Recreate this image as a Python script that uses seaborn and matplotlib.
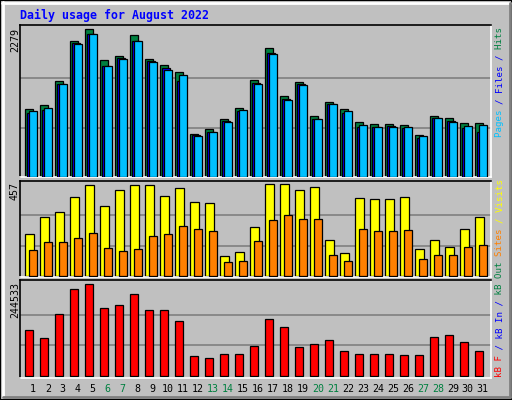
import numpy as np
import matplotlib
matplotlib.use("Agg")
import matplotlib.pyplot as plt
from matplotlib.patches import Rectangle
import seaborn as sns

days = list(range(1, 32))
weekends = [6, 7, 13, 14, 20, 21, 27, 28]
hits = [1042, 1103, 1480, 2093, 2279, 1799, 1861, 2186, 1815, 1722, 1614, 655, 732, 892, 1057, 1490,
        1985, 1243, 1459, 933, 1150, 1042, 840, 809, 809, 794, 639, 933, 902, 825, 825]
files = [980, 1040, 1440, 2060, 2210, 1710, 1830, 2100, 1790, 1680, 1480, 640, 700, 860, 1020, 1450,
         1920, 1200, 1430, 900, 1120, 980, 775, 770, 780, 760, 600, 910, 870, 760, 690]
pages = [1011, 1057, 1428, 2047, 2202, 1707, 1815, 2093, 1769, 1645, 1567, 624, 686, 840, 1026, 1428,
         1892, 1181, 1413, 887, 1119, 1011, 794, 763, 763, 763, 624, 902, 840, 779, 794]
visits = [209, 293, 318, 392, 452, 348, 427, 452, 452, 397, 437, 368, 363, 99, 119, 243,
          457, 457, 427, 442, 179, 114, 387, 382, 382, 392, 134, 179, 144, 233, 293]
sites = [129, 169, 169, 189, 214, 139, 124, 134, 199, 209, 248, 233, 224, 70, 75, 174,
         278, 303, 283, 283, 104, 75, 233, 224, 224, 229, 84, 104, 104, 144, 154]
kbytes = [121376, 99960, 164212, 231147, 244533, 180276, 188308, 217759, 174921, 174921, 145470,
          51763, 46408, 57117, 57117, 78536, 150825, 129406, 75859, 83891, 94601, 65149, 57117,
          57117, 57117, 54440, 54440, 102633, 107988, 89246, 65149]

sns.set_style("white")
plt.rcParams['font.family'] = ['DejaVu Sans Mono', 'DejaVu Sans']

W, H = 512, 400
fig = plt.figure(figsize=(5.12, 4.0), dpi=100, facecolor="#C0C0C0")

def fx(px): return px / W
def fy(py): return 1 - py / H

def add_panel(top, bottom):
    ax = fig.add_axes([fx(20), fy(bottom), fx(490.7) - fx(20), (bottom - top) / H])
    ax.set_facecolor("#C0C0C0")
    for s in ["top", "left"]:
        ax.spines[s].set_color("black")
    for s in ["bottom", "right"]:
        ax.spines[s].set_color("white")
    for s in ax.spines.values():
        s.set_linewidth(1.2)
    ax.set_xticks([]); ax.set_yticks([])
    ax.set_xlim(0.147, 0.147 + 470.7 / 15)
    return ax

d = np.array(days, dtype=float)
lw = 0.9

# top panel
ax1 = add_panel(25, 177)
m1 = max(hits)
ax1.set_ylim(-2, 2345)
for g in (m1 / 3, 2 * m1 / 3):
    ax1.axhline(g, color="#808080", lw=1.2, zorder=0)
ax1.bar(d - 0.5, hits, width=8 / 15, align="edge", color="#008040", edgecolor="black", lw=lw, zorder=2)
ax1.bar(d - 0.5 + 2 / 15, files, width=7.5 / 15, align="edge", color="#0000FF", edgecolor="black", lw=lw, zorder=3)
ax1.bar(d - 0.5 + 4 / 15, pages, width=7.4 / 15, align="edge", color="#00C0FF", edgecolor="black", lw=lw, zorder=4)

# middle panel
ax2 = add_panel(180.7, 277.3)
m2 = max(visits)
ax2.set_ylim(-5, 475)
for g in (m2 / 3, 2 * m2 / 3):
    ax2.axhline(g, color="#808080", lw=1.2, zorder=0)
ax2.bar(d - 0.5, visits, width=8.3 / 15, align="edge", color="#FFFF00", edgecolor="black", lw=lw, zorder=2)
ax2.bar(d - 0.5 + 4 / 15, sites, width=7.7 / 15, align="edge", color="#FF8000", edgecolor="black", lw=lw, zorder=3)

# bottom panel
ax3 = add_panel(280.3, 377.7)
m3 = max(kbytes)
ax3.set_ylim(-5351, 255235)
for g in (m3 / 3, 2 * m3 / 3):
    ax3.axhline(g, color="#808080", lw=1.2, zorder=0)
ax3.bar(d - 0.5, kbytes, width=7.3 / 15, align="edge", color="#FF0000", edgecolor="black", lw=lw, zorder=2)

# day labels
for day in days:
    ax3.text(day, -0.12, str(day), transform=ax3.get_xaxis_transform(), ha="center", va="center",
             fontsize=7.2, color="#008040" if day in weekends else "black")

# title
fig.text(fx(20), fy(15), "Daily usage for August 2022", color="#0000FF", fontsize=8.4,
         fontweight="bold", ha="left", va="center")

# left max labels
for txt, top in (("2279", 28), ("457", 182), ("244533", 282)):
    fig.text(fx(15), fy(top), txt, rotation=90, ha="center", va="top", fontsize=7.2, color="black")

# right legends (monospace, colored segments)
def seg_text(full, segs, bottom_py):
    for sub, col in segs:
        i = full.index(sub)
        s = " " * i + sub + " " * (len(full) - i - len(sub))
        fig.text(fx(500), fy(bottom_py), s, rotation=90, ha="center", va="bottom",
                 fontsize=6.6, color=col)

full1 = "Pages / Files / Hits"
seg_text(full1, [("Pages", "#00C0FF"), ("/ Files /", "#0000FF"), ("Hits", "#008040")], 137)
full2 = "kB F / kB In / kB Out Sites / Visits"
parts = [("kB F", "#FF0000")]
s2 = full2
def mk(full, start, sub):
    return full[:0]
segs = [("kB F", "#FF0000"), ("/ kB In /", "#0000FF"), ("kB Out", "#008040"),
        ("Sites", "#FF8000"), ("/ Visits", "#FFFF00")]
seg_text(full2, segs, 376.7)

# frame
fig.add_artist(Rectangle((0, 0), 1, 1, transform=fig.transFigure, fill=False, ec="black", lw=1.5))
fig.add_artist(plt.Line2D([fx(1.5), fx(510)], [fy(2.5), fy(2.5)], transform=fig.transFigure, color="white", lw=2))
fig.add_artist(plt.Line2D([fx(2.5), fx(2.5)], [fy(2), fy(397)], transform=fig.transFigure, color="white", lw=2))
fig.add_artist(plt.Line2D([fx(3), fx(510)], [fy(396.5), fy(396.5)], transform=fig.transFigure, color="#808080", lw=2))
fig.add_artist(plt.Line2D([fx(509.5), fx(509.5)], [fy(3), fy(397)], transform=fig.transFigure, color="#808080", lw=2))

fig.savefig("out.png", dpi=100, facecolor="#C0C0C0")
